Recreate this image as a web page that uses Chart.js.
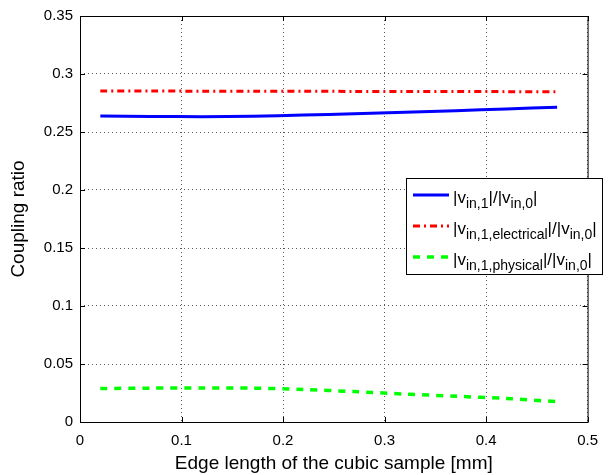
<!DOCTYPE html>
<html>
<head>
<meta charset="utf-8">
<script src="https://cdn.jsdelivr.net/npm/chart.js@4.4.1/dist/chart.umd.min.js"></script>
<style>
  html, body { margin: 0; padding: 0; background: #fff; }
  #wrap { width: 608px; height: 475px; }
</style>
</head>
<body>
<div id="wrap"><canvas id="coupling"></canvas></div>
<script>
// edge length of the cubic sample [mm]
const edge_mm = [0.02, 0.07, 0.12, 0.17, 0.22, 0.27, 0.32, 0.37, 0.42, 0.47];
// |v_in,1| / |v_in,0|
const ratio_total = [0.2638, 0.2634, 0.2632, 0.2636, 0.2646, 0.2658, 0.2670, 0.2684, 0.2698, 0.2714];
// |v_in,1,electrical| / |v_in,0|
const ratio_electrical = [0.2853, 0.2853, 0.2852, 0.2852, 0.2851, 0.2850, 0.2849, 0.2849, 0.2848, 0.2847];
// |v_in,1,physical| / |v_in,0|
const ratio_physical = [0.0289, 0.0292, 0.0294, 0.0292, 0.0281, 0.0262, 0.0241, 0.0222, 0.0203, 0.0175];

const x_ticks = [0, 0.1, 0.2, 0.3, 0.4, 0.5];
const y_ticks = [0, 0.05, 0.1, 0.15, 0.2, 0.25, 0.3, 0.35];

const font_family = '"Liberation Sans", Arial, Helvetica, sans-serif';

const to_points = (ys) => edge_mm.map((x, i) => ({x: x, y: ys[i]}));

// legend entries: [main, subscript] pieces
const legend_items = [
    {color: '#0000ff', dash: [], width: 3, parts: [['|v', 'in,1'], ['|/|v', 'in,0'], ['|', '']]},
    {color: '#ff0000', dash: [7, 4, 2, 4], width: 3, parts: [['|v', 'in,1,electrical'], ['|/|v', 'in,0'], ['|', '']]},
    {color: '#00ff00', dash: [7, 7], width: 3.5, parts: [['|v', 'in,1,physical'], ['|/|v', 'in,0'], ['|', '']]}
];

// matlab-like frame, inward ticks and legend box
const matlab_frame = {
    id: 'matlab_frame',
    afterDraw(chart) {
        const c = chart.ctx;
        const a = chart.chartArea;
        const xs = chart.scales.x, ys = chart.scales.y;
        c.save();
        c.strokeStyle = '#000';
        c.lineWidth = 1;
        c.setLineDash([]);
        c.strokeRect(a.left + 0.5, a.top + 0.5, a.right - a.left, a.bottom - a.top);
        c.beginPath();
        x_ticks.forEach(v => {
            const px = Math.round(xs.getPixelForValue(v)) + 0.5;
            c.moveTo(px, a.bottom); c.lineTo(px, a.bottom - 5);
            c.moveTo(px, a.top); c.lineTo(px, a.top + 5);
        });
        y_ticks.forEach(v => {
            const py = Math.round(ys.getPixelForValue(v)) + 0.5;
            c.moveTo(a.left, py); c.lineTo(a.left + 5, py);
            c.moveTo(a.right, py); c.lineTo(a.right - 5, py);
        });
        c.stroke();

        // legend
        const lx = 406.5, ly = 178.5, lw = 196, lh = 96;
        c.fillStyle = '#fff';
        c.fillRect(lx, ly, lw, lh);
        c.strokeRect(lx, ly, lw, lh);
        c.textBaseline = 'alphabetic';
        legend_items.forEach((item, i) => {
            const cy = 195 + i * 31;
            c.strokeStyle = item.color;
            c.lineWidth = item.width;
            c.setLineDash(item.dash);
            c.beginPath();
            c.moveTo(413, cy);
            c.lineTo(449, cy);
            c.stroke();
            c.setLineDash([]);
            c.fillStyle = '#000';
            let tx = 453;
            const base = cy + 8;
            item.parts.forEach(p => {
                c.font = '17px ' + font_family;
                c.fillText(p[0], tx, base);
                tx += c.measureText(p[0]).width;
                if (p[1]) {
                    c.font = '14px ' + font_family;
                    c.fillText(p[1], tx, base + 5);
                    tx += c.measureText(p[1]).width;
                }
            });
        });
        c.restore();
    }
};

const datasets = [
    {label: 'total', data: to_points(ratio_total), borderColor: '#0000ff', borderWidth: 3, borderDash: []},
    {label: 'electrical', data: to_points(ratio_electrical), borderColor: '#ff0000', borderWidth: 3, borderDash: [7, 4, 2, 4]},
    {label: 'physical', data: to_points(ratio_physical), borderColor: '#00ff00', borderWidth: 3.5, borderDash: [7, 7]}
].map(d => Object.assign(d, {pointRadius: 0, fill: false, tension: 0.3, borderCapStyle: 'butt'}));

const config = {
    type: 'line',
    data: {datasets: datasets},
    options: {
        responsive: true,
        maintainAspectRatio: false,
        animation: false,
        layout: {padding: {top: 14, right: 9, left: 0, bottom: 0}},
        plugins: {legend: {display: false}, tooltip: {enabled: false}},
        scales: {
            x: {
                type: 'linear',
                min: 0, max: 0.5,
                afterBuildTicks: (s) => { s.ticks = x_ticks.map(v => ({value: v})); },
                afterFit: (s) => { s.height = 53; },
                grid: {color: '#555', lineWidth: 1, drawTicks: false},
                border: {display: false, dash: [1, 3]},
                ticks: {
                    color: '#000', padding: 10,
                    font: {family: font_family, size: 15},
                    callback: (v) => String(v)
                },
                title: {
                    display: true, text: 'Edge length of the cubic sample [mm]',
                    color: '#000', font: {family: font_family, size: 19}, padding: {top: 0, bottom: 0}
                }
            },
            y: {
                type: 'linear',
                min: 0, max: 0.35,
                afterBuildTicks: (s) => { s.ticks = y_ticks.map(v => ({value: v})); },
                afterFit: (s) => { s.width = 80; },
                grid: {color: '#555', lineWidth: 1, drawTicks: false},
                border: {display: false, dash: [1, 3]},
                ticks: {
                    color: '#000', padding: 7,
                    font: {family: font_family, size: 15},
                    callback: (v) => String(v)
                },
                title: {
                    display: true, text: 'Coupling ratio',
                    color: '#000', font: {family: font_family, size: 19}, padding: {top: 7, bottom: 0}
                }
            }
        }
    },
    plugins: [matlab_frame]
};

const ctx = document.getElementById('coupling');
const chart_coupling = new Chart(ctx, config);
</script>
</body>
</html>
